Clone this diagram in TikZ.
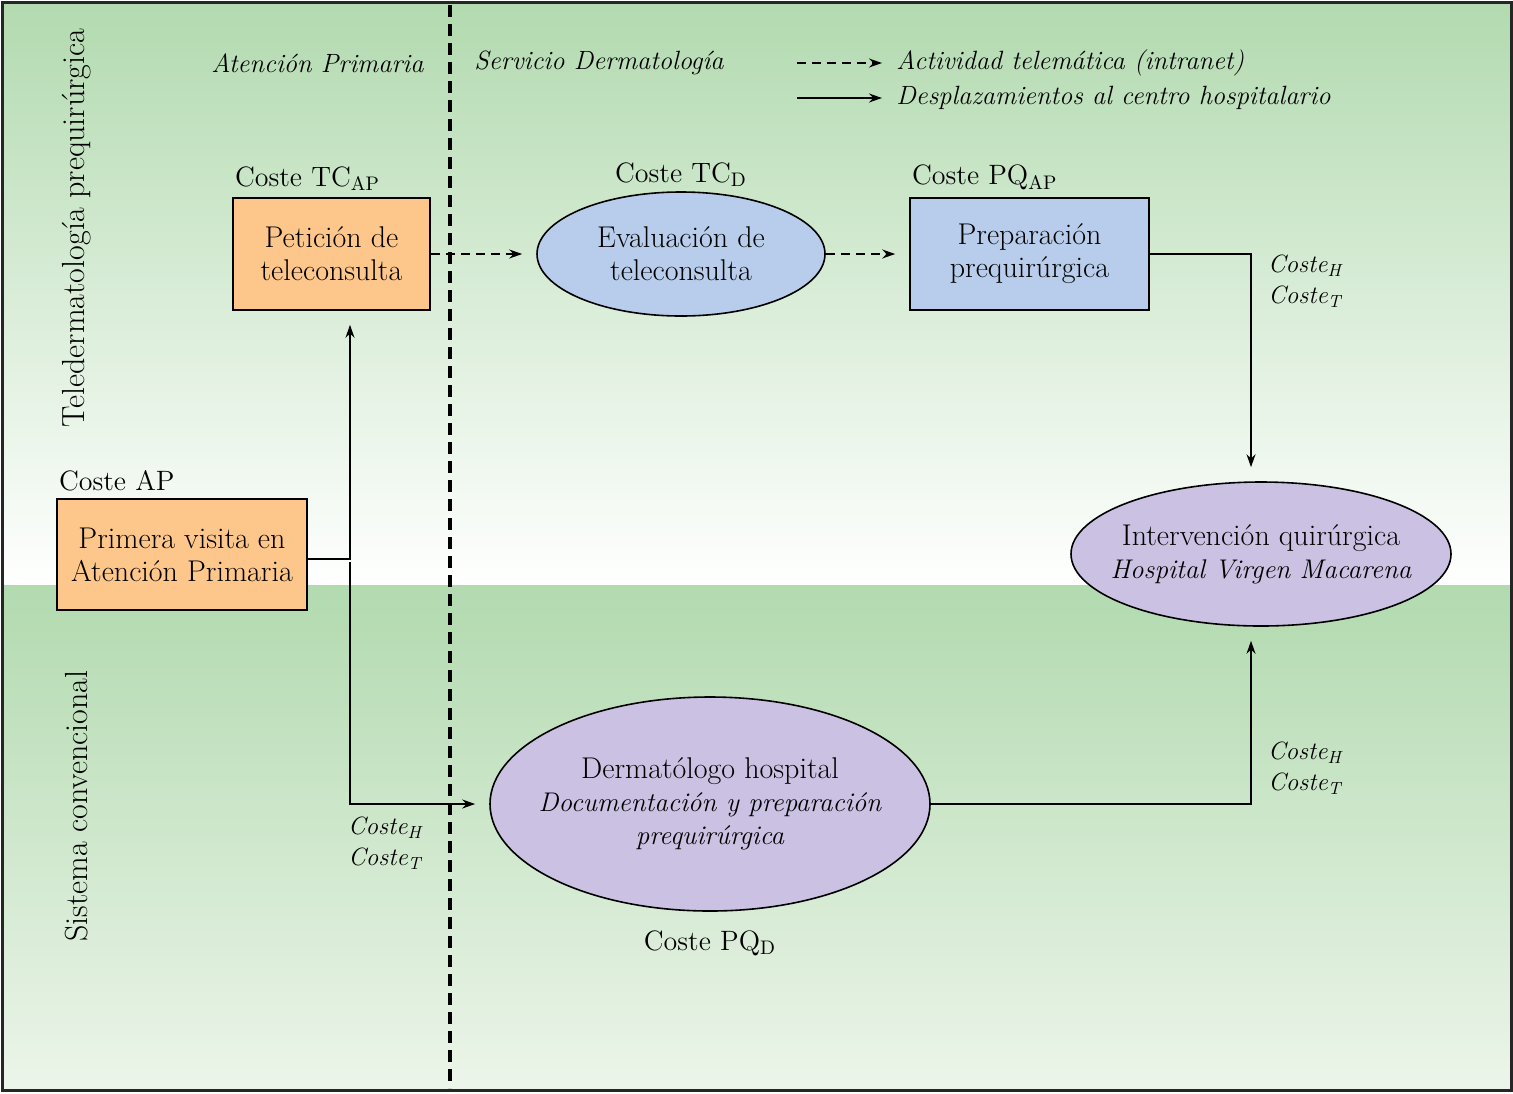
\documentclass[tikz,border=0pt]{standalone}
\usetikzlibrary{shapes.geometric,positioning,arrows.meta}
\definecolor{naranja}{RGB}{253,198,138}
\definecolor{azul}{RGB}{184,205,235}
\definecolor{lila}{RGB}{203,193,226}
\definecolor{verde}{RGB}{178,218,175}
\definecolor{verdeclaro}{RGB}{236,245,234}
\newcommand{\cursiva}[1]{{\fontsize{13.5}{16.5}\selectfont\itshape #1}}
\begin{document}
\begin{tikzpicture}[x=0.5pt,y=-0.5pt,>={Stealth[length=6.5pt,width=4.5pt]},line width=0.8pt,
	font=\fontsize{15}{16.5}\selectfont,
	caja/.style={draw,rectangle,align=center,inner sep=2pt},
	elipse/.style={draw,ellipse,align=center,inner sep=-12pt},
	coste/.style={inner sep=1pt,font=\fontsize{14}{16.5}\selectfont},
	costeht/.style={inner sep=1pt,align=center,font=\fontsize{12.5}{15.5}\selectfont\itshape},
	titulo/.style={font=\fontsize{13.2}{16.5}\selectfont\itshape},
	lateral/.style={rotate=90,font=\fontsize{16}{16.5}\selectfont},
	flecha/.style={->,shorten >=7pt},
	tele/.style={->,dash pattern=on 4.5pt off 3pt}]

		\useasboundingbox (0,0) rectangle (1513,1093);
		\shade[top color=verde,bottom color=white] (2,2) rectangle (1511,585);
		\shade[top color=verde,bottom color=verdeclaro] (2,585) rectangle (1511,1090);

		% division
		\coordinate (dtop) at (450,5);
		\coordinate (dbot) at (450,1088);
		\draw[line width=2pt,dash pattern=on 6pt off 3.5pt] (dtop) -- (dbot);

		\node[lateral] (tele) at (77,228) {Teledermatología prequirúrgica};
		\node[lateral] (conv) at (77,806) {Sistema convencional};
		\node[titulo,anchor=east] (ap) at (431,63) {Atención Primaria};
		\node[titulo,anchor=west] (sd) at (467,63) {Servicio Dermatología};

		% leyenda
		\coordinate (l1a) at (797,63);
		\coordinate (l1b) at (882,63);
		\coordinate (l2a) at (797,98);
		\coordinate (l2b) at (882,98);
		\draw[tele] (l1a) -- (l1b);
		\draw[->] (l2a) -- (l2b);
		\node[titulo,anchor=west] (ley1) at (889,63) {Actividad telemática (intranet)};
		\node[titulo,anchor=west] (ley2) at (889,98) {Desplazamientos al centro hospitalario};

		\node (1) [caja,fill=naranja,minimum width=125pt,minimum height=55.5pt] at (182,554.5) {Primera visita en\\Atención Primaria};
		\node (2) [caja,fill=naranja,minimum width=98.5pt,minimum height=56pt] at (331.5,254) {Petición de\\teleconsulta};
		\node (3) [elipse,fill=azul,minimum width=144pt,minimum height=62pt] at (681,254) {Evaluación de\\teleconsulta};
		\node (4) [caja,fill=azul,minimum width=119.5pt,minimum height=56pt] at (1029.5,254) {Preparación\\prequirúrgica};
		\node (5) [elipse,fill=lila,minimum width=190pt,minimum height=72pt] at (1261,554) {Intervención quirúrgica\\\cursiva{Hospital Virgen Macarena}};
		\node (6) [elipse,fill=lila,minimum width=220pt,minimum height=107pt] at (710,804) {Dermatólogo hospital\\\cursiva{Documentación y preparación}\\\cursiva{prequirúrgica}};

		\node (c1) [coste,above right=2pt and 0pt of 1.north west,anchor=south west] {Coste AP};
		\node (c2) [coste,above right=2pt and 0pt of 2.north west,anchor=south west] {Coste TC\textsubscript{AP}};
		\node (c3) [coste,above=1pt of 3] {Coste TC\textsubscript{D}};
		\node (c4) [coste,above right=2pt and 0pt of 4.north west,anchor=south west] {Coste PQ\textsubscript{AP}};
		\node (c6) [coste,below=8pt of 6] {Coste PQ\textsubscript{D}};

		\node (h1) [costeht] at (1305,281) {Coste\textsubscript{H}\\Coste\textsubscript{T}};
		\node (h2) [costeht] at (1305,768) {Coste\textsubscript{H}\\Coste\textsubscript{T}};
		\node (h3) [costeht] at (385,843) {Coste\textsubscript{H}\\Coste\textsubscript{T}};

		\coordinate (sube) at (350,559);
		\coordinate (baja) at (350,562);
		\draw[tele,shorten >=7pt] (2) -- (3);
		\draw[tele,shorten >=7pt] (3) -- (4);
		\draw[flecha] (1.east |- sube) -| ([xshift=9.25pt]2.south);
		\draw[flecha] (baja) |- (6.west);
		\draw[flecha] (4.east) -| ([xshift=-5pt]5.north);
		\draw[flecha] (6.east) -| ([xshift=-5pt]5.south);

		\draw[line width=1.5pt,draw=black!85] (2,2) rectangle (1511,1090);
	\end{tikzpicture}
\end{document}
